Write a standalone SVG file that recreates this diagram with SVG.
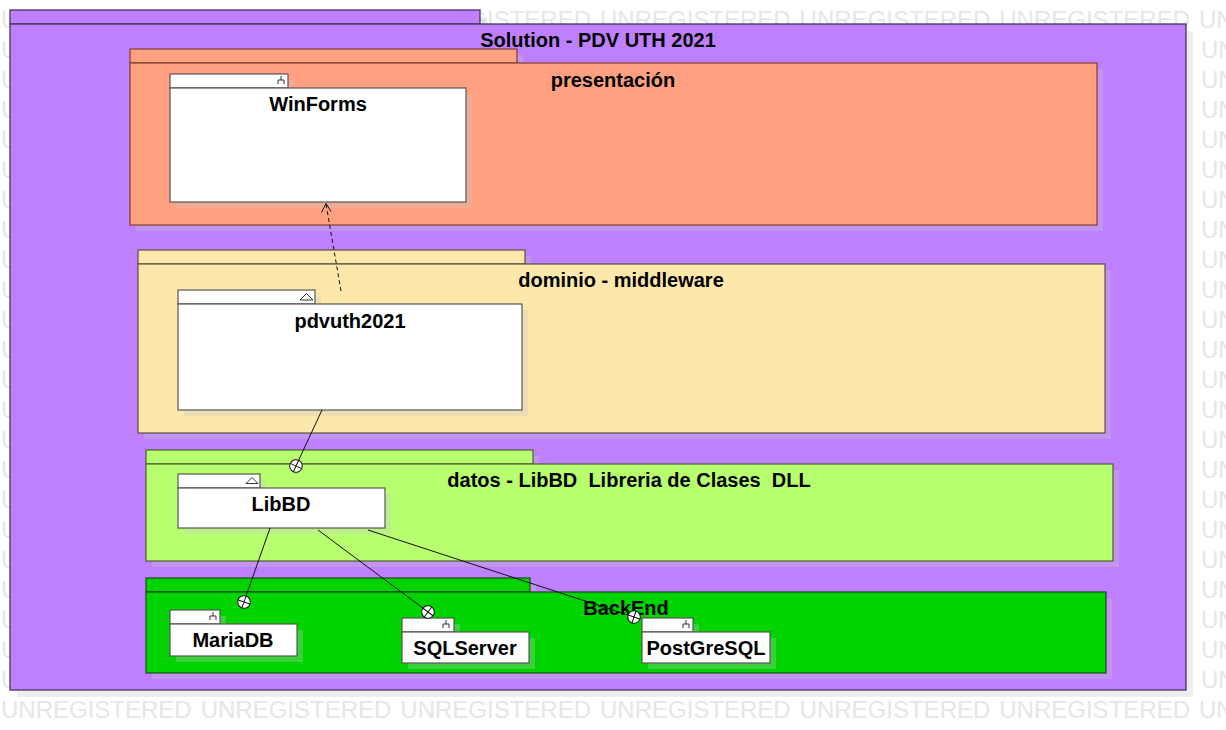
<svg xmlns="http://www.w3.org/2000/svg" width="1226" height="730" viewBox="0 0 1226 730">
<style>
.wm{font-family:"Liberation Sans",Arial,sans-serif;font-size:24px;fill:#e6e6e6;word-spacing:2.3px}
.t{font-family:"Liberation Sans",Arial,sans-serif;font-weight:bold;font-size:20px;fill:#000;text-anchor:middle}
.sh{fill:#c8c8c8;opacity:0.3}
.node{fill:#fff;stroke:#555;stroke-width:1.2}
.ic{fill:none;stroke:#333;stroke-width:1}
.con{fill:none;stroke:#111;stroke-width:1}
.x{fill:#fff;stroke:#111;stroke-width:1}
</style>
<rect width="1226" height="730" fill="#fff"/>
<g id="watermark">
<text class="wm" x="1" y="28">UNREGISTERED UNREGISTERED UNREGISTERED UNREGISTERED UNREGISTERED UNREGISTERED UNREGISTERED</text>
<text class="wm" x="1" y="58">UNREGISTERED</text><text class="wm" x="1201" y="58">UNREGISTERED</text>
<text class="wm" x="1" y="88">UNREGISTERED</text><text class="wm" x="1201" y="88">UNREGISTERED</text>
<text class="wm" x="1" y="118">UNREGISTERED</text><text class="wm" x="1201" y="118">UNREGISTERED</text>
<text class="wm" x="1" y="148">UNREGISTERED</text><text class="wm" x="1201" y="148">UNREGISTERED</text>
<text class="wm" x="1" y="178">UNREGISTERED</text><text class="wm" x="1201" y="178">UNREGISTERED</text>
<text class="wm" x="1" y="208">UNREGISTERED</text><text class="wm" x="1201" y="208">UNREGISTERED</text>
<text class="wm" x="1" y="238">UNREGISTERED</text><text class="wm" x="1201" y="238">UNREGISTERED</text>
<text class="wm" x="1" y="268">UNREGISTERED</text><text class="wm" x="1201" y="268">UNREGISTERED</text>
<text class="wm" x="1" y="298">UNREGISTERED</text><text class="wm" x="1201" y="298">UNREGISTERED</text>
<text class="wm" x="1" y="328">UNREGISTERED</text><text class="wm" x="1201" y="328">UNREGISTERED</text>
<text class="wm" x="1" y="358">UNREGISTERED</text><text class="wm" x="1201" y="358">UNREGISTERED</text>
<text class="wm" x="1" y="388">UNREGISTERED</text><text class="wm" x="1201" y="388">UNREGISTERED</text>
<text class="wm" x="1" y="418">UNREGISTERED</text><text class="wm" x="1201" y="418">UNREGISTERED</text>
<text class="wm" x="1" y="448">UNREGISTERED</text><text class="wm" x="1201" y="448">UNREGISTERED</text>
<text class="wm" x="1" y="478">UNREGISTERED</text><text class="wm" x="1201" y="478">UNREGISTERED</text>
<text class="wm" x="1" y="508">UNREGISTERED</text><text class="wm" x="1201" y="508">UNREGISTERED</text>
<text class="wm" x="1" y="538">UNREGISTERED</text><text class="wm" x="1201" y="538">UNREGISTERED</text>
<text class="wm" x="1" y="568">UNREGISTERED</text><text class="wm" x="1201" y="568">UNREGISTERED</text>
<text class="wm" x="1" y="598">UNREGISTERED</text><text class="wm" x="1201" y="598">UNREGISTERED</text>
<text class="wm" x="1" y="628">UNREGISTERED</text><text class="wm" x="1201" y="628">UNREGISTERED</text>
<text class="wm" x="1" y="658">UNREGISTERED</text><text class="wm" x="1201" y="658">UNREGISTERED</text>
<text class="wm" x="1" y="688">UNREGISTERED</text><text class="wm" x="1201" y="688">UNREGISTERED</text>
<text class="wm" x="1" y="718">UNREGISTERED UNREGISTERED UNREGISTERED UNREGISTERED UNREGISTERED UNREGISTERED UNREGISTERED</text>
</g>

<g id="solution">
<rect class="sh" x="17" y="17" width="470" height="14"/>
<rect class="sh" x="17" y="31" width="1176" height="666"/>
<rect x="10" y="10" width="470" height="14" fill="#bf80ff" stroke="#4a3060" stroke-width="1.3"/>
<rect x="10" y="24" width="1176" height="666" fill="#bf80ff" stroke="#4a3060" stroke-width="1.3"/>
<text class="t" x="598" y="47">Solution - PDV UTH 2021</text>
</g>

<g id="presentacion">
<rect class="sh" x="136" y="55" width="387" height="14"/>
<rect class="sh" x="136" y="69" width="967" height="162"/>
<rect x="130" y="49" width="387" height="14" fill="#ffa080" stroke="#7a4030" stroke-width="1.2"/>
<rect x="130" y="63" width="967" height="162" fill="#ffa080" stroke="#7a4030" stroke-width="1.2"/>
<text class="t" x="613" y="87">presentación</text>
</g>

<g id="winforms">
<rect class="sh" x="176" y="80" width="118" height="14"/>
<rect class="sh" x="176" y="94" width="296" height="114"/>
<rect class="node" x="170" y="74" width="118" height="14"/>
<rect class="node" x="170" y="88" width="296" height="114"/>
<path class="ic" d="M281,76V80M278,84V80H284V84"/>
<text class="t" x="318" y="111">WinForms</text>
</g>

<g id="dominio">
<rect class="sh" x="144" y="256" width="387" height="14"/>
<rect class="sh" x="144" y="270" width="967" height="169"/>
<rect x="138" y="250" width="387" height="14" fill="#fde8ac" stroke="#5a5040" stroke-width="1.2"/>
<rect x="138" y="264" width="967" height="169" fill="#fde8ac" stroke="#5a5040" stroke-width="1.2"/>
<text class="t" x="621" y="287">dominio - middleware</text>
</g>

<g id="pdvuth2021">
<rect class="sh" x="184" y="296" width="137" height="14"/>
<rect class="sh" x="184" y="310" width="344" height="106"/>
<rect class="node" x="178" y="290" width="137" height="14"/>
<rect class="node" x="178" y="304" width="344" height="106"/>
<path class="ic" d="M300,300H313L306.5,293.5Z"/>
<text class="t" x="350" y="328">pdvuth2021</text>
</g>

<g id="datos">
<rect class="sh" x="152" y="456" width="387" height="14"/>
<rect class="sh" x="152" y="470" width="967" height="97"/>
<rect x="146" y="450" width="387" height="14" fill="#b8ff70" stroke="#4a6030" stroke-width="1.2"/>
<rect x="146" y="464" width="967" height="97" fill="#b8ff70" stroke="#4a6030" stroke-width="1.2"/>
<text class="t" x="629" y="487" xml:space="preserve">datos - LibBD  Libreria de Clases  DLL</text>
</g>

<g id="libbd">
<rect class="sh" x="184" y="480" width="82" height="14"/>
<rect class="sh" x="184" y="494" width="207" height="40"/>
<rect class="node" x="178" y="474" width="82" height="14"/>
<rect class="node" x="178" y="488" width="207" height="40"/>
<path class="ic" d="M246,483.5H258L252,477.5Z"/>
<text class="t" x="281" y="511">LibBD</text>
</g>

<g id="backend">
<rect class="sh" x="152" y="584" width="384" height="14"/>
<rect class="sh" x="152" y="598" width="960" height="81"/>
<rect x="146" y="578" width="384" height="14" fill="#00d400" stroke="#1a4a1a" stroke-width="1.2"/>
<rect x="146" y="592" width="960" height="81" fill="#00d400" stroke="#1a4a1a" stroke-width="1.2"/>
<text class="t" x="626" y="615">BackEnd</text>
</g>

<g id="mariadb">
<rect class="sh" x="176" y="616" width="50" height="14"/>
<rect class="sh" x="176" y="630" width="127" height="32"/>
<rect class="node" x="170" y="610" width="50" height="14"/>
<rect class="node" x="170" y="624" width="127" height="32"/>
<path class="ic" d="M213,612V616M210,620V616H216V620"/>
<text class="t" x="233" y="647">MariaDB</text>
</g>

<g id="sqlserver">
<rect class="sh" x="408" y="624" width="52" height="14"/>
<rect class="sh" x="408" y="638" width="127" height="31"/>
<rect class="node" x="402" y="618" width="52" height="14"/>
<rect class="node" x="402" y="632" width="127" height="31"/>
<path class="ic" d="M446,620V624M443,628V624H449V628"/>
<text class="t" x="465" y="655">SQLServer</text>
</g>

<g id="postgresql">
<rect class="sh" x="648" y="624" width="51" height="14"/>
<rect class="sh" x="648" y="638" width="128" height="31"/>
<rect class="node" x="642" y="618" width="51" height="14"/>
<rect class="node" x="642" y="632" width="128" height="31"/>
<path class="ic" d="M686,620V624M683,628V624H689V628"/>
<text class="t" x="706" y="655">PostGreSQL</text>
</g>

<g id="connectors">
<path class="con" d="M341,291L326,204" stroke-dasharray="4,3"/>
<path class="con" d="M321.5,212.5L326,203.5L331,211.5"/>
<path class="con" d="M322,410L298.7,460.1"/>
<g transform="translate(296,466) rotate(24.9)"><circle class="x" r="6.3"/><path class="con" d="M-6.3,0H6.3M0,-6.3V6.3"/></g>
<path class="con" d="M270,528L246.1,596"/>
<g transform="translate(244,602) rotate(19.4)"><circle class="x" r="6.3"/><path class="con" d="M-6.3,0H6.3M0,-6.3V6.3"/></g>
<path class="con" d="M318,530L423,608.2"/>
<g transform="translate(428,612) rotate(36.7)"><circle class="x" r="6.3"/><path class="con" d="M-6.3,0H6.3M0,-6.3V6.3"/></g>
<path class="con" d="M368,530L628,615"/>
<g transform="translate(634,617) rotate(18.1)"><circle class="x" r="6.3"/><path class="con" d="M-6.3,0H6.3M0,-6.3V6.3"/></g>
</g>
</svg>
